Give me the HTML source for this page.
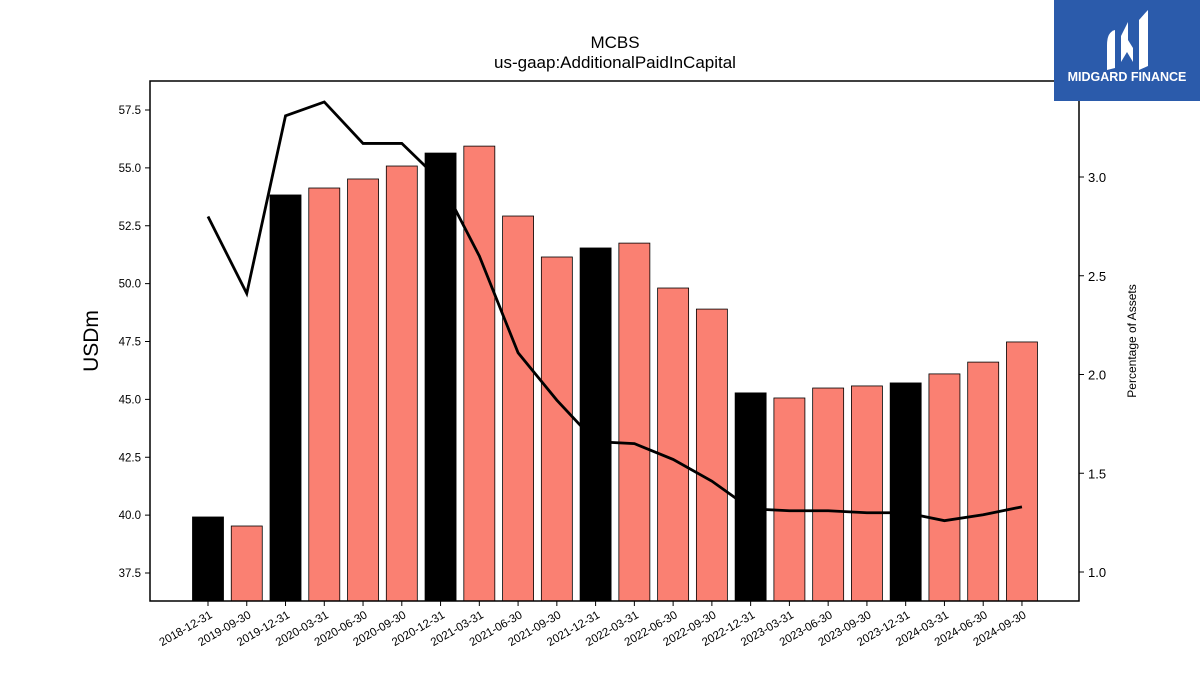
<!DOCTYPE html>
<html><head><meta charset="utf-8"><style>
body{margin:0;background:#fff;}
svg text{font-family:"Liberation Sans","DejaVu Sans",sans-serif;}
</style></head><body>
<svg id="chart" width="1200" height="675" xmlns="http://www.w3.org/2000/svg">
<rect width="1200" height="675" fill="#fff"/>
<text x="615" y="48" font-size="17" text-anchor="middle">MCBS</text>
<text x="615" y="68" font-size="17" text-anchor="middle">us-gaap:AdditionalPaidInCapital</text>
<g id="bars"></g>
<g id="line"></g>
<rect x="150" y="81" width="929" height="520" fill="none" stroke="#000" stroke-width="1.5"/>
<g id="axes"></g>
<text transform="translate(98,341) rotate(-90)" font-size="21" text-anchor="middle">USDm</text>
<text transform="translate(1136,341) rotate(-90)" font-size="12" text-anchor="middle">Percentage of Assets</text>
<g>
<rect x="1054" y="0" width="146" height="101" fill="#2b5bab"/>
<path d="M1107,45 Q1107,32 1115,30 L1115,68 L1107,70 Z" fill="#fff"/>
<path d="M1121,36 L1128,22 L1128,40 L1133,48 L1133,62 L1127,52 L1121,62 Z" fill="#fff"/>
<path d="M1139,20 Q1146,12 1148,10 L1148,66 L1139,70 Z" fill="#fff"/>
<text x="1127" y="81" font-size="12.5" font-weight="bold" fill="#fff" text-anchor="middle">MIDGARD FINANCE</text>
</g>
</svg>
<script>
const categories=["2018-12-31","2019-09-30","2019-12-31","2020-03-31","2020-06-30","2020-09-30","2020-12-31","2021-03-31","2021-06-30","2021-09-30","2021-12-31","2022-03-31","2022-06-30","2022-09-30","2022-12-31","2023-03-31","2023-06-30","2023-09-30","2023-12-31","2024-03-31","2024-06-30","2024-09-30"];
const barValues=[39.92,39.53,53.83,54.13,54.52,55.08,55.64,55.94,52.92,51.15,51.54,51.75,49.81,48.90,45.28,45.06,45.49,45.58,45.71,46.10,46.61,47.48];
const annual=[true,false,true,false,false,false,true,false,false,false,true,false,false,false,true,false,false,false,true,false,false,false];
const pctValues=[2.80,2.41,3.31,3.38,3.17,3.17,2.98,2.60,2.11,1.87,1.66,1.65,1.57,1.46,1.32,1.31,1.31,1.30,1.30,1.26,1.29,1.33];
const leftTicks=[37.5,40.0,42.5,45.0,47.5,50.0,52.5,55.0,57.5];
const rightTicks=[1.0,1.5,2.0,2.5,3.0];
const NS="http://www.w3.org/2000/svg";
const yL=v=>573-(v-37.5)*23.15;
const yR=v=>572-(v-1.0)*197.5;
const xC=i=>208+i*38.76;
const BOTTOM=601;
function mk(t,a,p){const e=document.createElementNS(NS,t);for(const k in a)e.setAttribute(k,a[k]);p.appendChild(e);return e;}
const bars=document.getElementById('bars');
barValues.forEach((v,i)=>{
 const y=yL(v);
 const r=mk('rect',{x:xC(i)-15.5,y:y,width:31,height:BOTTOM-y,fill:annual[i]?'#000':'#fa8072',stroke:'#000','stroke-width':0.8},bars);
 
 
});
const line=document.getElementById('line');
const pl=mk('polyline',{points:pctValues.map((v,i)=>xC(i)+','+yR(v)).join(' '),fill:'none',stroke:'#000','stroke-width':2.8},line);


const axes=document.getElementById('axes');
leftTicks.forEach(v=>{
 const y=yL(v);
 mk('line',{x1:145,x2:150,y1:y,y2:y,stroke:'#000'},axes);
 const t=mk('text',{x:141,y:y+4,'font-size':11.5,'text-anchor':'end'},axes);
 t.textContent=v.toFixed(1);
 
 
});
rightTicks.forEach(v=>{
 const y=yR(v);
 mk('line',{x1:1079,x2:1084,y1:y,y2:y,stroke:'#000'},axes);
 const t=mk('text',{x:1088,y:y+5,'font-size':13},axes);
 t.textContent=v.toFixed(1);
 
 
});
categories.forEach((c,i)=>{
 const x=xC(i);
 mk('line',{x1:x,x2:x,y1:601,y2:606,stroke:'#000'},axes);
 const t=mk('text',{transform:'translate('+(x+5)+',617) rotate(-30)','font-size':11.5,'text-anchor':'end'},axes);
 t.textContent=c;
 
 
});
</script>
</body></html>
